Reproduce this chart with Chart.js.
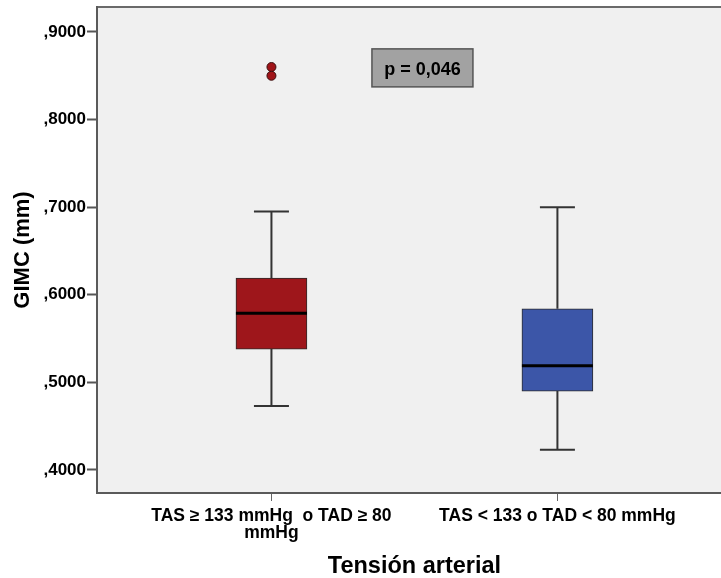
<!DOCTYPE html>
<html lang="es">
<head>
<meta charset="UTF-8">
<title>GIMC según tensión arterial</title>
<script src="https://cdn.jsdelivr.net/npm/chart.js"></script>
<style>
  body { margin: 0; background: #fff; }
  canvas { display: block; }
</style>
</head>
<body>
<canvas id="boxChart" width="721" height="578"></canvas>
<script>
// grupos de tensión arterial (posición 1 y 2 en el eje x)
const grupos = [['TAS \u2265 133 mmHg  o TAD \u2265 80', 'mmHg'], 'TAS < 133 o TAD < 80 mmHg'];
const posX = [1, 2];

// resumen de cada caja, GIMC en mm
const minimos  = [0.473, 0.423];
const q1       = [0.538, 0.490];
const medianas = [0.579, 0.519];
const q3       = [0.619, 0.584];
const maximos  = [0.695, 0.700];

// casos atípicos (solo grupo 1)
const atipicosX = [1, 1];
const atipicosY = [0.860, 0.850];

const ticksY = [0.4, 0.5, 0.6, 0.7, 0.8, 0.9];
const textoP = 'p = 0,046';
const tituloX = 'Tensión arterial';
const colores = ['#9e161b', '#3c56a8'];

const FUENTE = "'Liberation Sans', Arial, sans-serif";

// fondo gris del área, borde superior y título del eje x
const fondo = {
  id: 'fondo',
  beforeDraw(chart) {
    const { ctx, chartArea: a } = chart;
    ctx.save();
    ctx.fillStyle = '#f0f0f0';
    ctx.fillRect(a.left, a.top, a.right - a.left, a.bottom - a.top);
    ctx.strokeStyle = '#6a6a6a';
    ctx.lineWidth = 2;
    ctx.beginPath();
    ctx.moveTo(a.left, a.top);
    ctx.lineTo(a.right, a.top);
    ctx.stroke();
    ctx.restore();
  },
  afterDraw(chart) {
    const { ctx, scales: { x } } = chart;
    ctx.save();
    ctx.fillStyle = '#000';
    ctx.font = 'bold 23.5px ' + FUENTE;
    ctx.textAlign = 'center';
    ctx.textBaseline = 'alphabetic';
    // centrado entre los dos grupos
    ctx.fillText(tituloX, x.getPixelForValue(1.5), 573);
    ctx.restore();
  }
};

// bigotes, medianas y el cuadro del valor p
const bigotes = {
  id: 'bigotes',
  afterDatasetsDraw(chart) {
    const { ctx, scales: { x, y } } = chart;
    const mitadCaja = 35.5, mitadTope = 17.5;
    ctx.save();
    posX.forEach((p, i) => {
      const cx = x.getPixelForValue(p);
      ctx.strokeStyle = '#333';
      ctx.lineWidth = 2;
      ctx.beginPath();
      ctx.moveTo(cx, y.getPixelForValue(q3[i]));
      ctx.lineTo(cx, y.getPixelForValue(maximos[i]));
      ctx.moveTo(cx, y.getPixelForValue(q1[i]));
      ctx.lineTo(cx, y.getPixelForValue(minimos[i]));
      ctx.moveTo(cx - mitadTope, y.getPixelForValue(maximos[i]));
      ctx.lineTo(cx + mitadTope, y.getPixelForValue(maximos[i]));
      ctx.moveTo(cx - mitadTope, y.getPixelForValue(minimos[i]));
      ctx.lineTo(cx + mitadTope, y.getPixelForValue(minimos[i]));
      ctx.stroke();

      ctx.strokeStyle = '#000';
      ctx.lineWidth = 3;
      ctx.beginPath();
      ctx.moveTo(cx - mitadCaja, y.getPixelForValue(medianas[i]));
      ctx.lineTo(cx + mitadCaja, y.getPixelForValue(medianas[i]));
      ctx.stroke();
    });

    // cuadro con el valor p
    const px = x.getPixelForValue(1.528), py = y.getPixelForValue(0.859);
    const w = 101, h = 38;
    ctx.fillStyle = '#a2a2a2';
    ctx.fillRect(px - w / 2, py - h / 2, w, h);
    ctx.strokeStyle = '#555';
    ctx.lineWidth = 1.5;
    ctx.strokeRect(px - w / 2, py - h / 2, w, h);
    ctx.fillStyle = '#000';
    ctx.font = 'bold 18px ' + FUENTE;
    ctx.textAlign = 'center';
    ctx.textBaseline = 'alphabetic';
    ctx.fillText(textoP, px, py + 7);
    ctx.restore();
  }
};

const ctx = document.getElementById('boxChart');

const boxChart = new Chart(ctx, {
  type: 'bar',
  data: {
    datasets: [
      {
        // cajas: de Q1 a Q3
        data: posX.map((p, i) => ({ x: p, y: [q1[i], q3[i]] })),
        backgroundColor: colores,
        borderColor: '#2b2b2b',
        borderWidth: 1,
        borderSkipped: false,
        barThickness: 71,
        grouped: false
      },
      {
        type: 'scatter',
        data: atipicosX.map((p, i) => ({ x: p, y: atipicosY[i] })),
        pointRadius: 4.5,
        pointBackgroundColor: '#a01418',
        pointBorderColor: '#3a1010',
        pointBorderWidth: 1
      }
    ]
  },
  options: {
    responsive: false,
    devicePixelRatio: 1,
    animation: false,
    layout: { autoPadding: false, padding: { top: 7, right: 0, bottom: 0, left: 0 } },
    plugins: {
      legend: { display: false },
      tooltip: { enabled: false }
    },
    scales: {
      x: {
        type: 'linear',
        min: 0.39,
        max: 2.572,
        offset: false,
        afterFit: s => {
          s.height = 85;
          s.paddingLeft = 0;
          s.paddingRight = 0;
        },
        afterBuildTicks: s => { s.ticks = posX.map(v => ({ value: v })); },
        grid: { offset: false, drawOnChartArea: false, tickLength: 8, tickColor: '#666', tickWidth: 1 },
        border: { display: true, color: '#5a5a5a', width: 2 },
        ticks: {
          maxRotation: 0,
          autoSkip: false,
          padding: 6,
          color: '#000',
          font: { family: FUENTE, size: 17.5, weight: 'bold', lineHeight: 1 },
          callback: v => grupos[posX.indexOf(v)]
        }
      },
      y: {
        min: 0.3737,
        max: 0.9285,
        afterFit: s => {
          s.width = 97;
          s.paddingTop = 0;
          s.paddingBottom = 0;
        },
        afterBuildTicks: s => { s.ticks = ticksY.map(v => ({ value: v })); },
        grid: { drawOnChartArea: false, tickLength: 10, tickColor: '#555', tickWidth: 2 },
        border: { display: true, color: '#5a5a5a', width: 2 },
        ticks: {
          padding: 1,
          color: '#000',
          font: { family: FUENTE, size: 17, weight: 'bold' },
          callback: v => v.toFixed(4).replace('0.', ',')
        },
        title: {
          display: true,
          text: 'GIMC (mm)',
          color: '#000',
          font: { family: FUENTE, size: 22, weight: 'bold' },
          padding: { top: 10, bottom: 0 }
        }
      }
    }
  },
  plugins: [fondo, bigotes]
});
</script>
</body>
</html>
